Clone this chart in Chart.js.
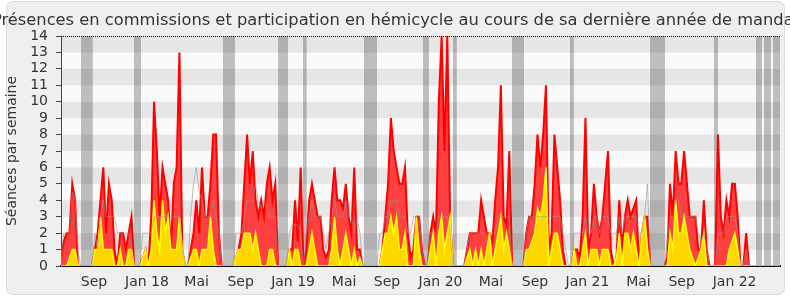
<!DOCTYPE html>
<html><head><meta charset="utf-8">
<script src="https://cdn.jsdelivr.net/npm/chart.js@4.4.1/dist/chart.umd.min.js"></script>
<style>html,body{margin:0;padding:0;background:#fff;}canvas{display:block;}</style>
</head><body>
<canvas id="c" width="790" height="300"></canvas>
<script>
const chartTitle = "Présences en commissions et participation en hémicycle au cours de sa dernière année de mandat";
const yTitle = "Séances par semaine";
const tickLabels = ['Sep','Jan 18','Mai','Sep','Jan 19','Mai','Sep','Jan 20','Mai','Sep','Jan 21','Mai','Sep','Jan 22'];
const tickWeeks = [11.7, 30.5, 48.1, 63.7, 82.3, 100.4, 115.6, 134.6, 152.5, 168.1, 186.7, 204.8, 220.1, 238.9];

// hemicycle participation (red), weekly
const hemicycle = [
0.5,1.5,2,2,5,4,0,0,0,0,
0,0,1,2,4,6,2,5,4,1,
0,2,2,1,2,3,0,0,0,0.5,
1,0,3,10,7,3,6,5,4,1,
5,6,13,1,0,0,1,2,4,2,
6,3,3,5,8,8,2,0,0,0,
0,0,0.5,1,2,5,8,5,7,4,
3,4,3,5,6,4,5,0,0,0,
0,1,1,4,1.5,6,0,1,4,5,
4,3,3,1,0.5,1,4,6,4,4,
3.5,5,3,2,6,1,1,0,0,0,
0,0,0,0,1,3,5,9,7,6,
5,5,6,2,0.5,1,3,3,1,0,
0,2,3,2,10,14,7,14,3,0,
0,0,0,0,1,2,2,2,2,4,
3,2,2,1.5,4,6,11,3,2.5,7,
0,0,0,0,0,2,3,3,5,8,
6,8,11,1,2,8,6,4,1,0,
0,0,1,1,0.5,3,9,1,2,5,
3,2,3,5,7,1,0,0.5,4,1,
3,4,3,3.5,4,0,2,3,3,0,
0,0,0,0,0,0.5,5,3,7,5,
5,7,5,3,3,3,1,1,4,1,
0,0,0,8,3,2,4,3,5,5,
3,0,0,2,0,0,0,0,0,0,
0,0,0,0,0,0];

// commission presence (yellow), weekly
const commissions = [
0,0,0,0.5,1,1,0,0,0,0,
0,0,1,1,3,1,1,1,1,0,
0,1,0,0,1,1,0,0,0,0.5,
1,0,1,4,2,1,4,2,3,1,
1,1,3,1,0,0,0.5,1,1,0,
1,1,1,3,1,0,0,0,0,0,
0,0,0.5,1,1,2,2,2,1,2,
1,0,0,0,1,1,0,0,0,0,
0,1,0,1,1,0,0,0,1,2,
1,0,0,0,0,0,1,3,1,0,
1,2,1,0,1,0,0.5,0,0,0,
0,0,0,0,1,2,2,3,2,3,
1,1,2,0,0,0,3,1,0,0,
0,1,2,0,2,3,1,2,3,0,
0,0,0,0,0.5,1,0,1,0,1,
0,1,2,0,1,2,3,1,2,1,
0,0,0,0,0,1,1,1.5,2,3.5,
3,4,6,0,1,2,2,1,0,0,
0,0,1,0,0,1,2,0,1,1,
1,0,1,1,1,0,0,0.5,2,0,
2,2,1,2,1,0,2,3,1,0,
0,0,0,0,0,0,2,1,4,2,
2,3,2,1,0.5,0,0.5,1,2,0,
0,0,0,0,0,0,0,1,1.5,2,
1,0,0,0,0,0,0,0,0,0,
0,0,0,0,0,0];

// median of deputies (grey line), weekly
const mediane = [
0.5,2,2,2,4.5,4,1,0,0,0,
0,0,2,1,3,4,3,3,3,3,
2,2,2,2,2,1,0,0,0,2,
2,2,2,3,3,3,3,3,3,3,
3,3,3,1,0,0,3,5,6,4.5,
4,3,3,3,4,3,2,0,0,0,
0,0,2,2,2,3,4,4,4,5,
4,3.5,4,3.5,3,3,3,0,0,0,
0,2,2.5,2.5,2.5,2,0,2,3,4,
3,3,3,2,1,2,3,4,3,3,
3,4,3,3,2,3,2,0,0,0,
0,0,0,2,2,3,3,4,4,4,
3,3,3,2,2,3,3,3,1,0,
0,2,2,2,3,3,3,3,2,0,
0,0,0,0,1,2,2,2,2,2,
2,2,2,2,2,3,3,3,3,3,
0,0,0,0,0,2,3,3,3,3,
3,3,3,3,3,3,3,3,2,1,
0,0,2,2,2,2,3,2,2,3,
3,2,3,3,3,2,2,2,3,2,
3,3,3,3,3,2,2,3,5,0,
0,0,0,0,0,1.5,3,3,4,4,
3,3,3,3,3,3,2,1.5,2,1,
0,0,0,2,2,2,3,3,3,3,
2,0,0,1,0,0,0,0,0,0,
0,0,0,0,0,0];

// parliamentary recess periods (in weeks)
const vacStart = [7.1, 25.9, 57.4, 77.0, 85.8, 107.4, 128.4, 139.0, 159.9, 180.5, 208.9, 231.6, 246.5, 249.3, 252.5];
const vacEnd   = [11.3, 28.4, 61.7, 80.5, 87.2, 112.1, 130.5, 140.4, 164.2, 181.9, 214.2, 233.0, 248.6, 251.8, 255.0];
const yMax = 14;

const FONT = 'DejaVu Sans';
const pts = arr => arr.map((v, i) => ({x: i, y: v}));
const vacPts = [];
vacStart.forEach((s, i) => {
  vacPts.push({x: s, y: yMax}, {x: vacEnd[i], y: yMax}, {x: vacEnd[i], y: null});
});

const bgPlugin = {
  id: 'bg',
  beforeDraw(chart) {
    const ctx = chart.ctx, a = chart.chartArea, ys = chart.scales.y;
    ctx.save();
    ctx.fillStyle = '#ffffff';
    ctx.fillRect(0, 0, chart.width, chart.height);
    ctx.beginPath();
    ctx.roundRect(6.5, 1.5, 778, 293, 6);
    ctx.fillStyle = '#efefef';
    ctx.fill();
    ctx.strokeStyle = '#dadada';
    ctx.lineWidth = 1;
    ctx.stroke();
    for (let k = 0; k < yMax; k++) {
      const y0 = ys.getPixelForValue(k + 1), y1 = ys.getPixelForValue(k);
      ctx.fillStyle = (k % 2 === 1) ? '#e6e6e6' : '#fafafa';
      ctx.fillRect(a.left, y0, a.right - a.left, y1 - y0);
    }
    ctx.restore();
  },
  afterDatasetsDraw(chart) {
    const ctx = chart.ctx, a = chart.chartArea;
    ctx.save();
    ctx.setLineDash([1, 1]);
    ctx.strokeStyle = '#111';
    ctx.lineWidth = 1;
    ctx.beginPath();
    ctx.moveTo(a.left, a.top + 0.5);
    ctx.lineTo(a.right, a.top + 0.5);
    ctx.stroke();
    ctx.restore();
  },
  afterDraw(chart) {
    const ctx = chart.ctx;
    ctx.save();
    ctx.font = '16.3px "' + FONT + '"';
    ctx.fillStyle = '#333';
    ctx.textAlign = 'center';
    ctx.textBaseline = 'alphabetic';
    ctx.fillText(chartTitle, 396, 25);
    ctx.restore();
  }
};

new Chart(document.getElementById('c'), {
  type: 'line',
  data: {
    datasets: [
      {label: 'Vacances', data: vacPts, fill: 'origin', backgroundColor: 'rgba(0,0,0,0.24)', borderWidth: 0, pointRadius: 0, spanGaps: false, order: 10},
      {label: 'Hémicycle', data: pts(hemicycle), fill: 'origin', backgroundColor: '#ff4040', borderColor: '#ff0000', borderWidth: 2, pointRadius: 0, order: 3},
      {label: 'Commissions', data: pts(commissions), fill: 'origin', backgroundColor: '#ffd700', borderColor: '#ffff00', borderWidth: 1.5, pointRadius: 0, order: 2},
      {label: 'Médiane', data: pts(mediane), fill: false, borderColor: 'rgba(150,150,150,0.6)', borderWidth: 1, pointRadius: 0, order: 1}
    ]
  },
  options: {
    responsive: false,
    animation: false,
    devicePixelRatio: 1,
    layout: {padding: {left: 0, right: 10, top: 36, bottom: 0}},
    plugins: {legend: {display: false}, tooltip: {enabled: false}, title: {display: false}},
    elements: {line: {tension: 0}},
    scales: {
      x: {
        type: 'linear', min: 0, max: hemicycle.length - 1, offset: false,
        grid: {display: false, drawTicks: false},
        border: {display: true, color: '#111', width: 2},
        afterBuildTicks: s => { s.ticks = tickWeeks.map(v => ({value: v})); },
        ticks: {autoSkip: false, maxRotation: 0, padding: 8, color: '#333', font: {family: FONT, size: 14},
                callback: (v, i) => tickLabels[i]},
        afterFit: s => { s.height = 34; }
      },
      y: {
        min: 0, max: yMax,
        grid: {drawOnChartArea: false, drawTicks: true, tickLength: 5, color: '#444'},
        border: {display: true, color: '#444', width: 1},
        ticks: {stepSize: 1, autoSkip: false, padding: 8, color: '#333', font: {family: FONT, size: 14}},
        title: {display: true, text: yTitle, color: '#333', font: {family: FONT, size: 14}, padding: {top: 4, bottom: 0}},
        afterFit: s => { s.width = 61; }
      }
    }
  },
  plugins: [bgPlugin]
});
</script>
</body></html>
